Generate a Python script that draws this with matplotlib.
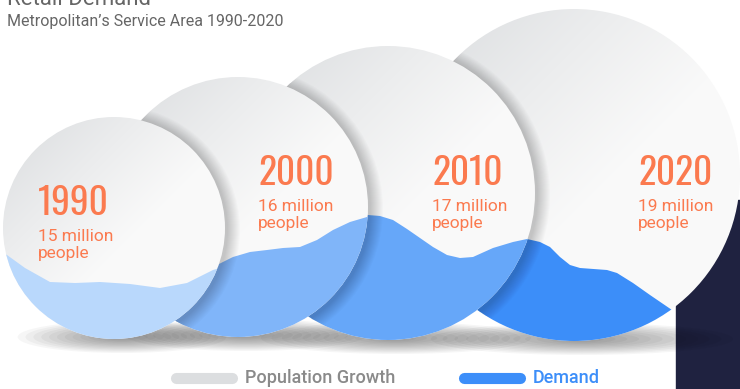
import numpy as np
import matplotlib.pyplot as plt
from matplotlib.patches import Circle, Ellipse, Polygon, Rectangle

years = ['1990', '2000', '2010', '2020']
population = [15, 16, 17, 19]  # million people

# demand wave outline for each year (pixel units)
wave_x = [
    [-5, 7, 25, 50, 75, 100, 130, 160, 187, 213, 240],
    [100, 200, 217, 233, 250, 267, 283, 300, 317, 333, 350, 367, 385],
    [250, 330, 355, 368, 380, 393, 407, 420, 433, 447, 460, 473, 493, 513, 527, 545],
    [420, 500, 527, 540, 550, 560, 570, 580, 607, 617, 633, 650, 672, 700],
]
wave_y = [
    [248, 255, 268, 282, 283, 282, 284, 288, 283, 270, 262],
    [285, 272, 265, 257, 252, 250, 248, 247, 240, 230, 222, 217, 213],
    [235, 222, 217, 215, 216, 220, 229, 238, 247, 255, 258, 257, 248, 242, 239, 238],
    [238, 236, 239, 242, 247, 257, 265, 268, 270, 273, 283, 295, 310, 330],
]

# layout
cx = [114, 238, 388, 574]
cy = [228, 207, 193, 175]
rad = [111, 130, 147, 166]
label_x = [38, 258, 432, 638]
label_y = [215, 185, 185, 185]
wave_colors = ['#b9d8fc', '#80b5f9', '#66a7f9', '#3c8ef9']
orange = '#fb7a4f'
blue = '#3c8ef9'
year_font = ['Oswald', 'Roboto Condensed', 'DejaVu Sans']

fig = plt.figure(figsize=(7.4, 3.89), dpi=100)
ax = fig.add_axes([0, 0, 1, 1])
ax.set_xlim(0, 740)
ax.set_ylim(389, 0)
ax.axis('off')

# dark block behind the last circle
ax.add_patch(Rectangle((676, 200), 70, 200, color='#1f2240', zorder=1))

# soft ground shadows
for i in range(4):
    for k in range(12):
        f = 1 - k / 12
        ax.add_patch(Ellipse((cx[i] + 8, cy[i] + rad[i] - 2), 1.7 * rad[i] * f + 20,
                             28 * f + 4, color='k', alpha=0.035, lw=0, zorder=5))

n = 200
u, v = np.meshgrid(np.linspace(0, 1, n), np.linspace(0, 1, n))
t = np.clip((u + v) / 1.15, 0, 1) ** 0.8
c0 = np.array([0.84, 0.85, 0.86])
c1 = np.array([0.98, 0.98, 0.98])
grad = c0 + (c1 - c0) * t[..., None]

discs = [None] * 4
for i in [3, 2, 1, 0]:
    z = 10 * (4 - i)
    disc = Circle((cx[i], cy[i]), rad[i], facecolor='none', edgecolor='none')
    ax.add_patch(disc)
    discs[i] = disc

    # shadow this circle casts on the one behind it
    if i < 3:
        for k in range(1, 14):
            sh = Circle((cx[i] + 2, cy[i] + 2), rad[i] + k, color='k', alpha=0.016, lw=0, zorder=z)
            ax.add_patch(sh)
            sh.set_clip_path(discs[i + 1])

    im = ax.imshow(grad, extent=(cx[i] - rad[i], cx[i] + rad[i], cy[i] + rad[i], cy[i] - rad[i]),
                   origin='upper', interpolation='bilinear', zorder=z + 1)
    im.set_clip_path(disc)

    bottom = cy[i] + rad[i] + 10
    pts = list(zip(wave_x[i], wave_y[i]))
    pts += [(wave_x[i][-1], bottom), (wave_x[i][0], bottom)]
    w = Polygon(pts, closed=True, facecolor=wave_colors[i], edgecolor='none', zorder=z + 2)
    ax.add_patch(w)
    w.set_clip_path(disc)

    ax.text(label_x[i], label_y[i], years[i], color=orange, fontsize=27,
            family=year_font, va='baseline', ha='left', zorder=z + 3)
    ax.text(label_x[i], label_y[i] + 26, f'{population[i]} million', color=orange, fontsize=12.5,
            family='Roboto', va='baseline', ha='left', zorder=z + 3)
    ax.text(label_x[i], label_y[i] + 43, 'people', color=orange, fontsize=12.5,
            family='Roboto', va='baseline', ha='left', zorder=z + 3)

ax.set_xlim(0, 740)
ax.set_ylim(389, 0)
ax.set_aspect('auto')

# titles
ax.text(7, 5, 'Retail Demand', color='#666666', fontsize=16, family='Roboto', va='baseline', zorder=60)
ax.text(7, 26, 'Metropolitan\u2019s Service Area 1990-2020', color='#666666', fontsize=11.5,
        family='Roboto', va='baseline', zorder=60)

# legend
ax.plot([175.5, 231.5], [377.5, 377.5], lw=8, solid_capstyle='round', color='#dcdee0', zorder=60)
ax.text(245, 378, 'Population Growth', color='#8a8a8a', fontsize=13, fontweight='medium',
        family='Roboto', va='center', zorder=60)
ax.plot([463.5, 519.5], [377.5, 377.5], lw=8, solid_capstyle='round', color=blue, zorder=60)
ax.text(533, 378, 'Demand', color=blue, fontsize=13, fontweight='medium',
        family='Roboto', va='center', zorder=60)

fig.savefig('out.png', dpi=100)
